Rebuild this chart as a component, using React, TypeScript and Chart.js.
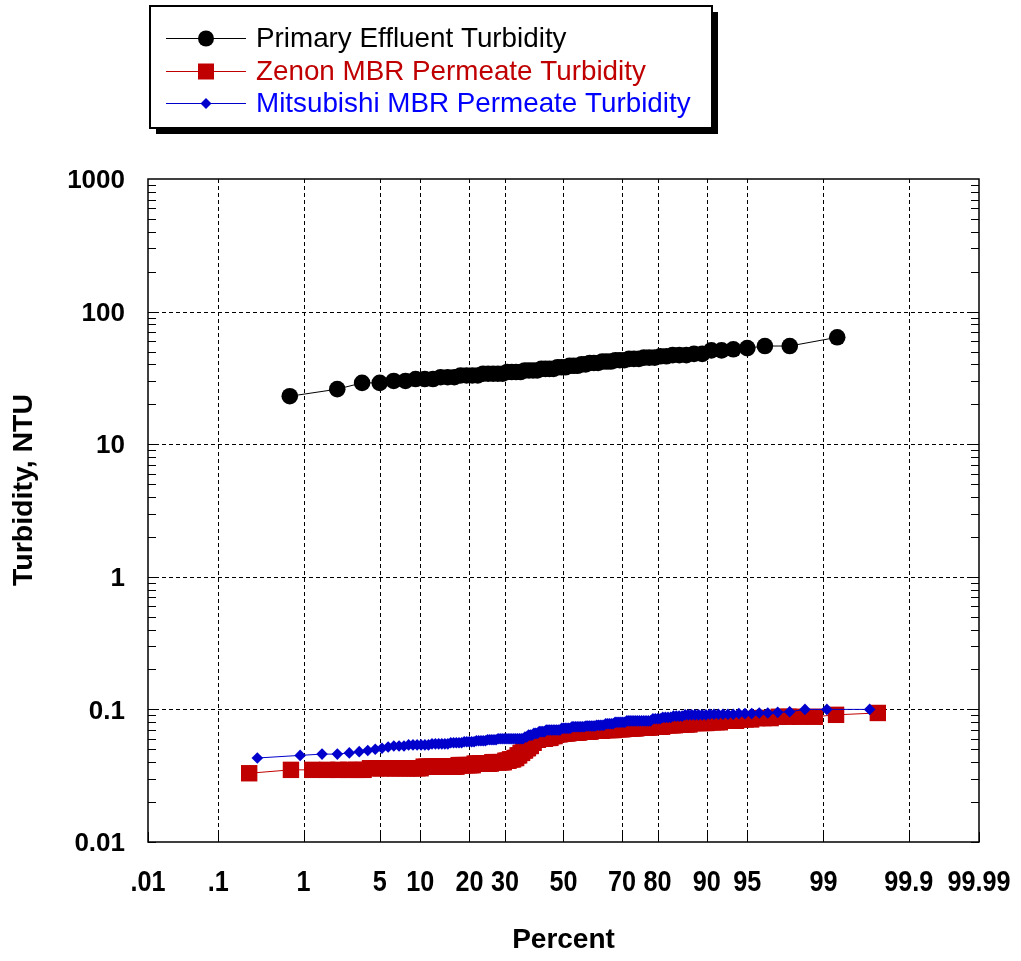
import { useEffect, useRef } from 'react';
import { Chart, registerables } from 'chart.js';

Chart.register(...registerables);

// ---- Data -------------------------------------------------------------
const seriesNames = [
  'Primary Effluent Turbidity',
  'Zenon MBR Permeate Turbidity',
  'Mitsubishi MBR Permeate Turbidity',
];

// sorted turbidity values (NTU) as run-length levels / counts
const primaryLevels = [23, 26, 29, 30, 31, 32, 33, 34, 35, 36, 37, 38, 39, 40, 41, 42, 43, 44, 45, 46, 47, 48, 51, 52, 53, 55, 64];
const primaryCounts = [1, 1, 2, 2, 3, 3, 4, 5, 4, 4, 4, 3, 3, 2, 3, 3, 3, 3, 3, 2, 3, 2, 2, 1, 1, 2, 1];

const zenonLevels = [0.033, 0.035, 0.036, 0.037, 0.038, 0.039, 0.040, 0.041, 0.042, 0.043, 0.045, 0.047, 0.049, 0.051, 0.053, 0.056, 0.059, 0.060, 0.061, 0.063, 0.065, 0.066, 0.067, 0.068, 0.069, 0.070, 0.071, 0.072, 0.073, 0.074, 0.076, 0.077, 0.079, 0.080, 0.082, 0.084, 0.086, 0.088, 0.091, 0.094];
const zenonCounts = [1, 7, 13, 14, 8, 10, 8, 3, 3, 2, 2, 2, 2, 2, 2, 2, 3, 5, 4, 3, 4, 6, 8, 8, 8, 8, 6, 8, 8, 6, 6, 6, 6, 4, 4, 3, 3, 4, 1, 1];

const mitsubishiLevels = [0.043, 0.045, 0.046, 0.047, 0.048, 0.049, 0.050, 0.051, 0.052, 0.053, 0.054, 0.055, 0.056, 0.057, 0.058, 0.059, 0.060, 0.062, 0.064, 0.066, 0.068, 0.070, 0.072, 0.074, 0.075, 0.076, 0.078, 0.080, 0.082, 0.085, 0.087, 0.089, 0.091, 0.092, 0.093, 0.094, 0.095, 0.096, 0.100];
const mitsubishiCounts = [1, 1, 2, 1, 1, 1, 1, 1, 1, 3, 6, 6, 5, 5, 5, 5, 14, 2, 3, 3, 4, 9, 6, 8, 6, 5, 5, 6, 12, 4, 4, 4, 7, 6, 3, 2, 1, 1, 3];

const xTickPercents = [0.01, 0.1, 1, 5, 10, 20, 30, 50, 70, 80, 90, 95, 99, 99.9, 99.99];
const xTickLabels = ['.01', '.1', '1', '5', '10', '20', '30', '50', '70', '80', '90', '95', '99', '99.9', '99.99'];
const yTickValues = [0.01, 0.1, 1, 10, 100, 1000];
const yTickLabels = ['0.01', '0.1', '1', '10', '100', '1000'];

const xTitle = 'Percent';
const yTitle = 'Turbidity, NTU';

// ---- Helpers ----------------------------------------------------------
// inverse normal CDF (normal-probability axis transform)
function probit(p: number): number {
  const a = [-3.969683028665376e1, 2.209460984245205e2, -2.759285104469687e2, 1.38357751867269e2, -3.066479806614716e1, 2.506628277459239];
  const b = [-5.447609879822406e1, 1.615858368580409e2, -1.556989798598866e2, 6.680131188771972e1, -1.328068155288572e1];
  const c = [-7.784894002430293e-3, -3.223964580411365e-1, -2.400758277161838, -2.549732539343734, 4.374664141464968, 2.938163982698783];
  const d = [7.784695709041462e-3, 3.224671290700398e-1, 2.445134137142996, 3.754408661907416];
  const pl = 0.02425;
  if (p < pl) {
    const q = Math.sqrt(-2 * Math.log(p));
    return (((((c[0] * q + c[1]) * q + c[2]) * q + c[3]) * q + c[4]) * q + c[5]) / ((((d[0] * q + d[1]) * q + d[2]) * q + d[3]) * q + 1);
  }
  if (p <= 1 - pl) {
    const q = p - 0.5;
    const r = q * q;
    return ((((((a[0] * r + a[1]) * r + a[2]) * r + a[3]) * r + a[4]) * r + a[5]) * q) / (((((b[0] * r + b[1]) * r + b[2]) * r + b[3]) * r + b[4]) * r + 1);
  }
  const q = Math.sqrt(-2 * Math.log(1 - p));
  return -(((((c[0] * q + c[1]) * q + c[2]) * q + c[3]) * q + c[4]) * q + c[5]) / ((((d[0] * q + d[1]) * q + d[2]) * q + d[3]) * q + 1);
}

function expand(levels: number[], counts: number[]): number[] {
  const out: number[] = [];
  levels.forEach((v, i) => {
    for (let k = 0; k < counts[i]; k++) out.push(v);
  });
  return out;
}

// Hazen plotting position for sorted values
function toPoints(values: number[]) {
  const n = values.length;
  return values.map((v, i) => ({ x: probit((i + 0.5) / n), y: v }));
}

const FONT = '"Liberation Sans", Arial, Helvetica, sans-serif';
const BLACK = '#000000';
const RED = '#c00000';
const BLUE = '#0000cc';
const BLUE_TEXT = '#0000ff';

function drawMarker(ctx: CanvasRenderingContext2D, kind: string, x: number, y: number, color: string) {
  ctx.save();
  ctx.fillStyle = color;
  ctx.beginPath();
  if (kind === 'circle') {
    ctx.arc(x, y, 8, 0, Math.PI * 2);
  } else if (kind === 'rect') {
    ctx.rect(x - 8, y - 8, 16, 16);
  } else {
    ctx.moveTo(x - 5.5, y);
    ctx.lineTo(x, y - 5.5);
    ctx.lineTo(x + 5.5, y);
    ctx.lineTo(x, y + 5.5);
    ctx.closePath();
  }
  ctx.fill();
  ctx.restore();
}

const probPlotPlugin = {
  id: 'probPlot',
  beforeDatasetsDraw(chart: any) {
    const { ctx, chartArea, scales } = chart;
    const { left, right, top, bottom } = chartArea;
    const xs = scales.x;
    const ys = scales.y;
    ctx.save();
    ctx.strokeStyle = '#000';
    ctx.lineWidth = 1;
    ctx.setLineDash([4, 3]);
    xTickPercents.forEach((p, i) => {
      if (i === 0 || i === xTickPercents.length - 1) return;
      const px = Math.round(xs.getPixelForValue(probit(p / 100))) + 0.5;
      ctx.beginPath();
      ctx.moveTo(px, top);
      ctx.lineTo(px, bottom);
      ctx.stroke();
    });
    yTickValues.forEach((v, i) => {
      if (i === 0 || i === yTickValues.length - 1) return;
      const py = Math.round(ys.getPixelForValue(v)) + 0.5;
      ctx.beginPath();
      ctx.moveTo(left, py);
      ctx.lineTo(right, py);
      ctx.stroke();
    });
    ctx.restore();
  },
  afterDraw(chart: any) {
    const { ctx, chartArea, scales } = chart;
    const { left, right, top, bottom } = chartArea;
    const xs = scales.x;
    const ys = scales.y;
    ctx.save();
    ctx.setLineDash([]);
    ctx.strokeStyle = '#000';
    ctx.lineWidth = 1;
    // minor / major ticks on the log axis, both sides, inward
    for (let e = -2; e < 3; e++) {
      for (let m = 1; m <= 9; m++) {
        const v = m * Math.pow(10, e);
        const py = Math.round(ys.getPixelForValue(v)) + 0.5;
        ctx.beginPath();
        ctx.moveTo(left, py);
        ctx.lineTo(left + 8, py);
        ctx.moveTo(right - 8, py);
        ctx.lineTo(right, py);
        ctx.stroke();
      }
    }
    // x ticks inward at bottom
    xTickPercents.forEach((p) => {
      const px = Math.round(xs.getPixelForValue(probit(p / 100))) + 0.5;
      ctx.beginPath();
      ctx.moveTo(px, bottom);
      ctx.lineTo(px, bottom - 10);
      ctx.stroke();
    });
    // frame
    ctx.lineWidth = 1.5;
    ctx.strokeRect(left, top, right - left, bottom - top);

    // y tick labels
    ctx.fillStyle = '#000';
    ctx.font = `bold 26px ${FONT}`;
    ctx.textAlign = 'right';
    ctx.textBaseline = 'middle';
    yTickValues.forEach((v, i) => {
      const py = ys.getPixelForValue(v);
      ctx.fillText(yTickLabels[i], left - 23, py + 2);
    });

    // x tick labels (condensed)
    ctx.font = `bold 30px ${FONT}`;
    ctx.textAlign = 'center';
    ctx.textBaseline = 'middle';
    xTickPercents.forEach((p, i) => {
      const px = xs.getPixelForValue(probit(p / 100));
      ctx.save();
      ctx.translate(px, bottom + 41);
      ctx.scale(0.84, 1);
      ctx.fillText(xTickLabels[i], 0, 0);
      ctx.restore();
    });

    // axis titles
    ctx.font = `bold 28px ${FONT}`;
    ctx.save();
    ctx.translate((left + right) / 2, bottom + 98);
    ctx.fillText(xTitle, 0, 0);
    ctx.restore();
    ctx.save();
    ctx.translate(24, 490);
    ctx.rotate(-Math.PI / 2);
    ctx.font = `bold 28.5px ${FONT}`;
    ctx.fillText(yTitle, 0, 0);
    ctx.restore();

    // legend box with drop shadow
    const bx = 150, by = 6, bw = 562, bh = 122;
    ctx.fillStyle = '#000';
    ctx.fillRect(bx + 6, by + 6, bw, bh);
    ctx.fillStyle = '#fff';
    ctx.fillRect(bx, by, bw, bh);
    ctx.lineWidth = 2;
    ctx.strokeStyle = '#000';
    ctx.strokeRect(bx, by, bw, bh);

    const rows = [38, 71, 103];
    const lineColors = [BLACK, RED, BLUE];
    const textColors = [BLACK, RED, BLUE_TEXT];
    const kinds = ['circle', 'rect', 'diamond'];
    ctx.font = `27.8px ${FONT}`;
    ctx.textAlign = 'left';
    ctx.textBaseline = 'middle';
    rows.forEach((ry, i) => {
      ctx.strokeStyle = lineColors[i];
      ctx.lineWidth = 1;
      ctx.beginPath();
      ctx.moveTo(166, ry + 0.5);
      ctx.lineTo(246, ry + 0.5);
      ctx.stroke();
      drawMarker(ctx, kinds[i], 206, ry + 0.5, lineColors[i]);
      ctx.fillStyle = textColors[i];
      ctx.fillText(seriesNames[i], 256, ry + 1);
    });
    ctx.restore();
  },
};

export default function App() {
  const canvasRef = useRef<HTMLCanvasElement | null>(null);

  useEffect(() => {
    const canvas = canvasRef.current;
    if (!canvas) return;
    const primary = toPoints(expand(primaryLevels, primaryCounts));
    const zenon = toPoints(expand(zenonLevels, zenonCounts));
    const mitsubishi = toPoints(expand(mitsubishiLevels, mitsubishiCounts));

    const chart = new Chart(canvas, {
      type: 'scatter',
      data: {
        datasets: [
          {
            label: seriesNames[0],
            data: primary,
            showLine: true,
            borderColor: BLACK,
            backgroundColor: BLACK,
            borderWidth: 1,
            pointStyle: 'circle',
            pointRadius: 8.3,
            pointBorderWidth: 0,
            order: 0,
          },
          {
            label: seriesNames[1],
            data: zenon,
            showLine: true,
            borderColor: RED,
            backgroundColor: RED,
            borderWidth: 1,
            pointStyle: 'rect',
            pointRadius: 11.6,
            pointBorderWidth: 0,
            order: 2,
          },
          {
            label: seriesNames[2],
            data: mitsubishi,
            showLine: true,
            borderColor: BLUE,
            backgroundColor: BLUE,
            borderWidth: 1,
            pointStyle: 'rectRot',
            pointRadius: 5.8,
            pointBorderWidth: 0,
            order: 1,
          },
        ],
      },
      options: {
        responsive: false,
        animation: false,
        devicePixelRatio: 1,
        layout: { padding: { left: 148, right: 42, top: 179, bottom: 119 } },
        scales: {
          x: { type: 'linear', min: probit(0.0001), max: probit(0.9999), display: false },
          y: { type: 'logarithmic', min: 0.01, max: 1000, display: false },
        },
        plugins: {
          legend: { display: false },
          tooltip: { enabled: false },
        },
      },
      plugins: [probPlotPlugin],
    } as any);
    return () => chart.destroy();
  }, []);

  return (
    <div style={{ position: 'absolute', left: 0, top: 0, width: 1021, height: 961, background: '#fff' }}>
      <canvas ref={canvasRef} width={1021} height={961} style={{ display: 'block' }} />
    </div>
  );
}
